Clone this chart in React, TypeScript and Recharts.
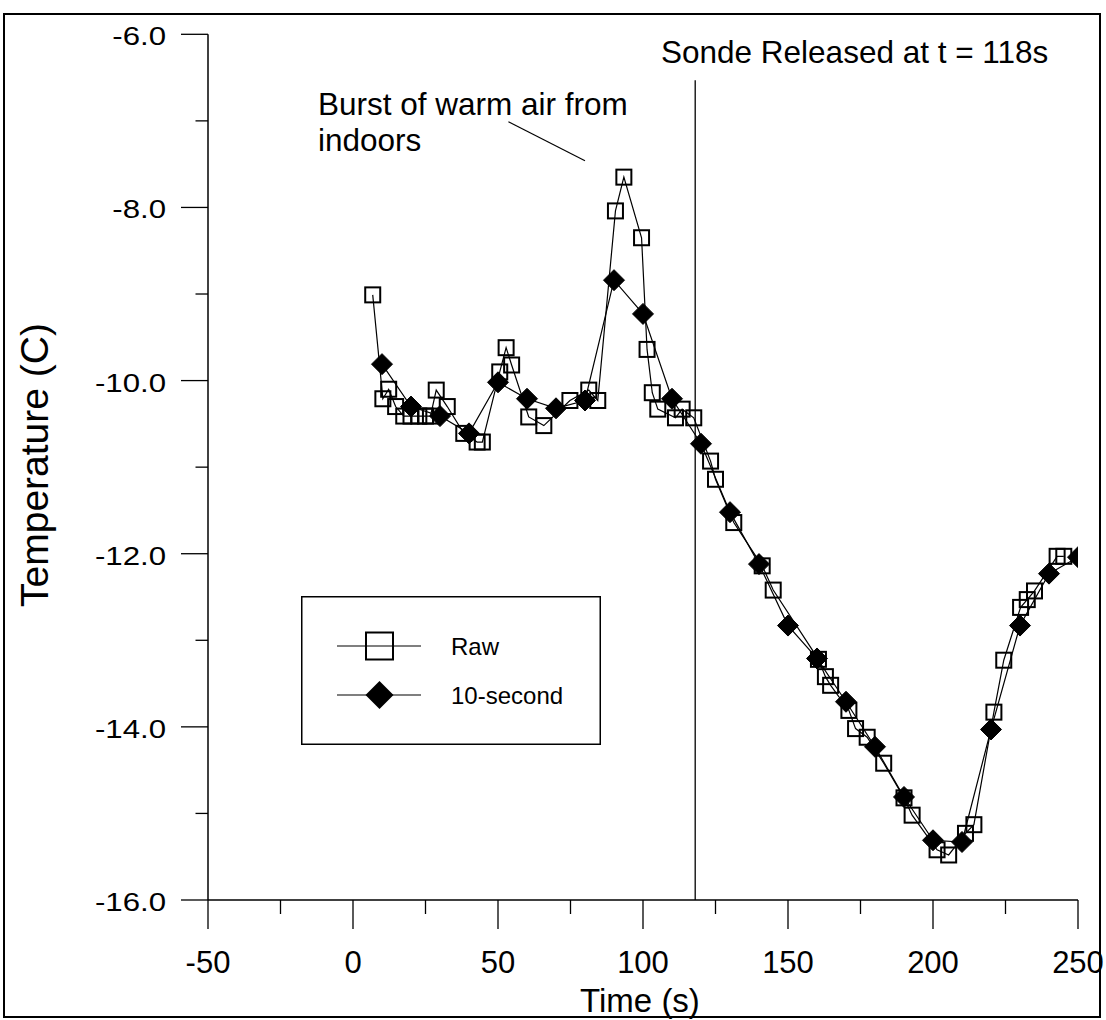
import React from 'react';
import { ScatterChart, Scatter, XAxis, YAxis, ReferenceLine, Legend } from 'recharts';

// Raw temperature samples (time in s, temperature in C)
const rawTime = [6.8, 10.3, 12.3, 14.7, 17.5, 20.0, 22.7, 25.0, 26.7, 28.7, 32.5, 38.2, 42.8, 44.6, 50.6, 52.8, 54.7, 60.6, 65.8, 74.8, 81.3, 84.4, 90.5, 93.4, 99.5, 101.4, 103.2, 105.1, 111.2, 113.5, 117.5, 123.3, 125.0, 131.3, 141.1, 144.9, 160.5, 162.9, 164.7, 171.0, 173.3, 177.3, 183.0, 190.0, 192.8, 201.4, 205.4, 211.2, 214.1, 221.0, 224.4, 230.2, 232.5, 235.0, 242.8, 245.1];
const rawTemp = [-9.01, -10.21, -10.10, -10.30, -10.41, -10.41, -10.41, -10.41, -10.41, -10.11, -10.30, -10.61, -10.71, -10.71, -9.90, -9.62, -9.82, -10.42, -10.52, -10.23, -10.11, -10.23, -8.04, -7.65, -8.35, -9.64, -10.14, -10.33, -10.43, -10.33, -10.43, -10.93, -11.14, -11.64, -12.14, -12.42, -13.22, -13.42, -13.52, -13.81, -14.02, -14.12, -14.42, -14.82, -15.02, -15.42, -15.48, -15.23, -15.13, -13.83, -13.23, -12.62, -12.53, -12.43, -12.03, -12.03];

// 10-second averages
const avgTime = [10, 20, 30, 40, 50, 60, 70, 80, 90, 100, 110, 120, 130, 140, 150, 160, 170, 180, 190, 200, 210, 220, 230, 240, 250];
const avgTemp = [-9.81, -10.30, -10.41, -10.61, -10.02, -10.21, -10.32, -10.23, -8.84, -9.23, -10.21, -10.73, -11.52, -12.12, -12.83, -13.21, -13.71, -14.23, -14.81, -15.31, -15.33, -14.03, -12.83, -12.23, -12.04];

const xTicks = [-50, -25, 0, 25, 50, 75, 100, 125, 150, 175, 200, 225, 250];
const yTicks = [-16, -15, -14, -13, -12, -11, -10, -9, -8, -7, -6];

const seriesNames = ['Raw', '10-second'];
const releaseTime = 118;

const rawData = rawTime.map((t, i) => ({ t, v: rawTemp[i] }));
const avgData = avgTime.map((t, i) => ({ t, v: avgTemp[i] }));

const FONT = '"Liberation Sans", Arial, Helvetica, sans-serif';

const SquareShape = (props: any) => {
  const { cx, cy } = props;
  if (cx == null || cy == null) return null;
  const s = 15;
  return <rect x={cx - s / 2} y={cy - s / 2} width={s} height={s} fill="none" stroke="#000" strokeWidth={2} />;
};

const DiamondShape = (props: any) => {
  const { cx, cy } = props;
  if (cx == null || cy == null) return null;
  const r = 10.5;
  return <polygon points={`${cx},${cy - r} ${cx + r},${cy} ${cx},${cy + r} ${cx - r},${cy}`} fill="#000" stroke="#000" strokeWidth={1} />;
};

const YTick = (props: any) => {
  const { x, y, payload } = props;
  const major = Math.abs(payload.value % 2) === 0;
  return (
    <g>
      <line x1={x - (major ? 27 : 12.5)} x2={x} y1={y} y2={y} stroke="#000" strokeWidth={1.3} />
      {major && (
        <text transform={`translate(${x - 42},${y + 2}) scale(1.2,1)`} textAnchor="end" dominantBaseline="central" fontSize={26} fontFamily={FONT} fill="#000">
          {payload.value.toFixed(1)}
        </text>
      )}
    </g>
  );
};

const XTick = (props: any) => {
  const { x, y, payload } = props;
  const major = payload.value % 50 === 0;
  return (
    <g>
      <line x1={x} x2={x} y1={y} y2={y + (major ? 29 : 14)} stroke="#000" strokeWidth={1.3} />
      {major && (
        <text x={x} y={y + 73} textAnchor="middle" fontSize={31} fontFamily={FONT} fill="#000">
          {payload.value}
        </text>
      )}
    </g>
  );
};

const LegendBox = () => (
  <svg width={300} height={149} style={{ display: 'block' }}>
    <rect x={0.75} y={0.75} width={298.5} height={147.5} fill="#fff" stroke="#000" strokeWidth={1.5} />
    <line x1={36} x2={120} y1={50} y2={50} stroke="#000" strokeWidth={1.2} />
    <rect x={65} y={36.5} width={27} height={27} fill="none" stroke="#000" strokeWidth={2} />
    <text x={150} y={50} dominantBaseline="central" fontSize={24} fontFamily={FONT}>{seriesNames[0]}</text>
    <line x1={36} x2={120} y1={99} y2={99} stroke="#000" strokeWidth={1.2} />
    <polygon points="78.5,85 92.5,99 78.5,113 64.5,99" fill="#000" />
    <text x={150} y={99} dominantBaseline="central" fontSize={24} fontFamily={FONT}>{seriesNames[1]}</text>
  </svg>
);

export default function App() {
  return (
    <div style={{ position: 'absolute', left: 0, top: 0, width: 1106, height: 1020, background: '#fff', fontFamily: FONT }}>
      <ScatterChart width={1106} height={1020} margin={{ top: 34.3, right: 28, bottom: 0, left: 0 }}>
        <XAxis
          type="number"
          dataKey="t"
          domain={[-50, 250]}
          ticks={xTicks}
          interval={0}
          tickSize={0}
          tickMargin={0}
          tick={<XTick />}
          height={120}
          axisLine={{ stroke: '#000', strokeWidth: 1.5 }}
          allowDataOverflow
        />
        <YAxis
          type="number"
          dataKey="v"
          domain={[-16, -6]}
          ticks={yTicks}
          interval={0}
          tickSize={0}
          tickMargin={0}
          tick={<YTick />}
          width={208}
          axisLine={{ stroke: '#000', strokeWidth: 1.5 }}
          allowDataOverflow
        />
        <ReferenceLine segment={[{ x: releaseTime, y: -6.53 }, { x: releaseTime, y: -16 }]} stroke="#000" strokeWidth={1.3} />
        <ReferenceLine segment={[{ x: 53.6, y: -7.01 }, { x: 80, y: -7.46 }]} stroke="#000" strokeWidth={1.2} />
        <Scatter name={seriesNames[0]} data={rawData} line={{ stroke: '#000', strokeWidth: 1.2 }} lineType="joint" shape={<SquareShape />} isAnimationActive={false} />
        <Scatter name={seriesNames[1]} data={avgData} line={{ stroke: '#000', strokeWidth: 1.2 }} lineType="joint" shape={<DiamondShape />} isAnimationActive={false} />
        <Legend
          layout="vertical"
          align="center"
          verticalAlign="middle"
          content={() => <LegendBox />}
          wrapperStyle={{ position: 'absolute', left: 301, top: 596, width: 300, height: 149 }}
        />
      </ScatterChart>
      <svg width={1106} height={1020} style={{ position: 'absolute', left: 0, top: 0, pointerEvents: 'none' }}>
        <rect x={4} y={14} width={1096} height={1003} fill="none" stroke="#000" strokeWidth={2} />
        <text x={661} y={63} fontSize={31.5} fontFamily={FONT}>Sonde Released at t = 118s</text>
        <text x={318} y={115} fontSize={31.5} fontFamily={FONT}>Burst of warm air from</text>
        <text x={318} y={151} fontSize={31.5} fontFamily={FONT}>indoors</text>
        <text x={640} y={1012} textAnchor="middle" fontSize={33} fontFamily={FONT}>Time (s)</text>
        <text transform="translate(48,465) rotate(-90)" textAnchor="middle" fontSize={39} fontFamily={FONT}>Temperature (C)</text>
      </svg>
    </div>
  );
}
